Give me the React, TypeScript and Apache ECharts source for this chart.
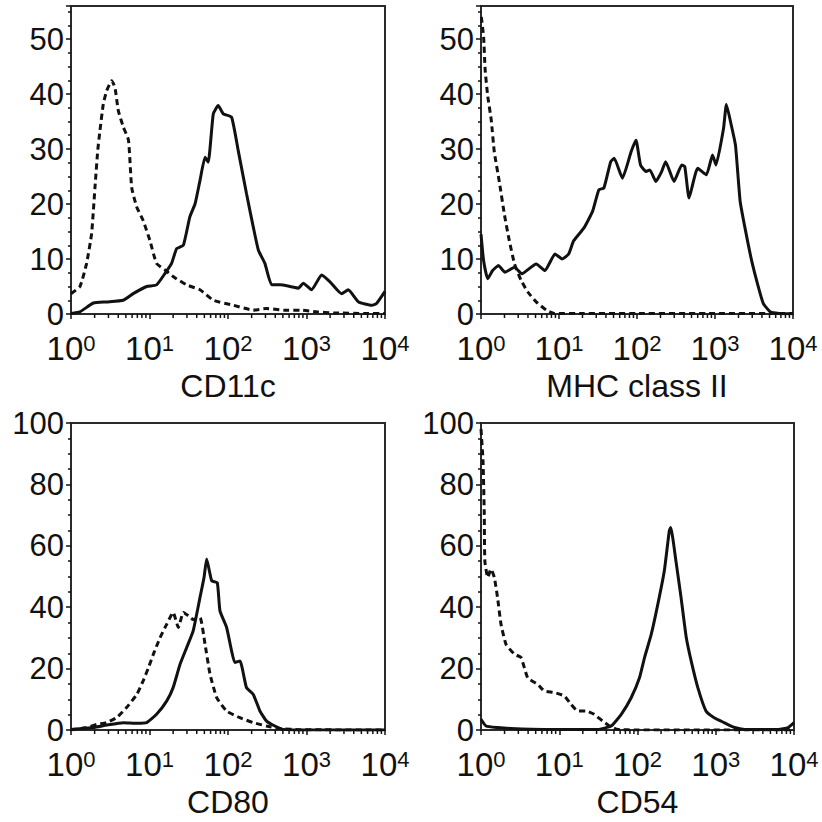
import React, { useEffect, useRef } from "react";
import * as echarts from "echarts";

// ---- Data (x = fluorescence intensity, y = cell count) ----
const markerNames = ["CD11c", "MHC class II", "CD80", "CD54"];

const cd11cControl: [number, number][] = [
  [1, 3.7], [1.3, 5], [1.58, 9.2], [1.83, 14.6], [2.02, 23], [2.19, 29.7], [2.34, 33.4],
  [2.58, 38.2], [2.85, 40.6], [3.3, 42.4], [3.63, 41.2], [4.0, 37], [4.64, 34], [5.4, 31.6],
  [5.93, 23], [6.86, 19.5], [8.3, 17], [10.1, 13.4], [12.3, 9.2], [15.8, 8], [20, 6.8],
  [29.7, 5.3], [44, 4.4], [65, 2.5], [117, 1.6], [210, 0.7], [310, 1.0], [510, 0.7],
  [830, 0.7], [1350, 0.4], [2200, 0.2], [5850, 0.1], [10000, 0.1],
];
const cd11cStained: [number, number][] = [
  [1, 0.1], [1.3, 0.4], [1.93, 2.0], [2.85, 2.2], [4.64, 2.5], [6.2, 3.7], [9.2, 5.0],
  [12.3, 5.3], [15.8, 7.4], [19.1, 9.2], [22.2, 11.9], [27, 12.5], [32.7, 17.7], [38, 20],
  [44, 24.3], [51, 28.5], [56, 27.6], [65, 36.4], [75, 37.9], [87, 36.4], [111, 35.8],
  [135, 29.7], [172, 21.9], [210, 15.8], [244, 11.6], [295, 9.2], [360, 5.3], [460, 5.3],
  [620, 5.0], [790, 4.7], [910, 5.6], [1160, 4.4], [1560, 7.1], [1980, 5.9], [2800, 3.7],
  [3400, 4.4], [4600, 2.2], [6800, 1.6], [7800, 1.9], [10000, 4.1],
];
const mhcControl: [number, number][] = [
  [1.01, 54], [1.08, 50.4], [1.13, 44.4], [1.22, 39.6], [1.35, 35.4], [1.48, 29.5],
  [1.72, 24], [2.0, 18], [2.31, 13.3], [2.69, 9.1], [3.27, 6.1], [3.98, 4], [5.1, 2.2],
  [6.9, 0.7], [8.8, 0.1], [20, 0.1], [100, 0.1], [1000, 0.1], [10000, 0.1],
];
const mhcStained: [number, number][] = [
  [1.0, 14.5], [1.08, 9.7], [1.22, 6.4], [1.41, 7.9], [1.67, 8.8], [2.03, 7.6], [2.69, 8.5],
  [3.33, 7.3], [5.1, 9.1], [6.6, 7.9], [8.9, 10.9], [11.0, 10.0], [13.3, 10.9], [15.4, 13.3],
  [21, 15.7], [27, 18.7], [32.5, 22.6], [37.6, 22.9], [46, 27.7], [51, 28.3], [65, 24.7],
  [84, 29.5], [97, 31.6], [111, 27.1], [131, 25.9], [146, 26.2], [175, 24.1], [207, 25.9],
  [233, 27.7], [298, 24.1], [375, 27.1], [410, 26.8], [465, 21.1], [600, 26.5], [775, 25.3],
  [930, 28.9], [1030, 27.1], [1285, 33.7], [1400, 38.1], [1620, 34.3], [1830, 30.7],
  [2100, 20.5], [2420, 15.7], [2950, 9.7], [3600, 4.9], [4170, 1.9], [5100, 0.4],
  [6600, 0.1], [10000, 0.05],
];
const cd80Control: [number, number][] = [
  [1, 0], [1.58, 0.8], [2.12, 1.8], [2.84, 2.4], [3.8, 4], [5.1, 7.3], [6.9, 11.6],
  [8.3, 16], [9.7, 20.3], [11.2, 24.7], [13.6, 30], [16.6, 34.5], [20, 38.3], [23.3, 33.4],
  [27, 38.3], [31.3, 37.2], [36, 36], [44, 36.6], [51, 27.9], [59, 18.2], [72, 10.5],
  [96, 6.2], [142, 4], [210, 2.4], [310, 1.3], [460, 0.5], [830, 0.1], [10000, 0],
];
const cd80Stained: [number, number][] = [
  [1, 0.2], [1.93, 0.8], [2.85, 1.6], [4.64, 2.4], [6.9, 2.2], [9.2, 2.4], [12.3, 5.1],
  [16.6, 9.5], [20, 13.8], [24.5, 21.4], [29.7, 26.8], [36, 32.3], [44, 43.2], [49.5, 49.7],
  [53.5, 55.7], [62, 48.6], [73, 48], [79, 38.8], [96, 33.4], [111, 25.8], [122, 22],
  [142, 22.5], [172, 13.8], [210, 11.6], [255, 6.2], [310, 2.9], [395, 1.3], [505, 0.2],
  [830, 0], [10000, 0],
];
const cd54Control: [number, number][] = [
  [1.0, 98], [1.06, 88], [1.1, 71], [1.12, 55], [1.22, 49.7], [1.34, 52.4], [1.48, 49.7],
  [1.63, 43], [1.8, 34.5], [2.09, 27.9], [2.67, 24.7], [3.25, 23.6], [3.95, 17], [5.3, 14.9],
  [6.45, 12.7], [8.6, 12.2], [11.6, 11.1], [14.1, 8.4], [17.2, 6.2], [22, 6.2], [28, 5.1],
  [35.9, 2.9], [44, 1.3], [56, 0.2], [100, 0], [10000, 0],
];
const cd54Stained: [number, number][] = [
  [1.0, 3.5], [1.16, 1.3], [1.63, 0.8], [2.42, 0.5], [6.45, 0.2], [17.2, 0.2], [31, 0.2],
  [46, 1.3], [62, 5.1], [83, 10.5], [106, 17], [123, 23.6], [150, 31.2], [182, 41],
  [220, 51.8], [255, 64.9], [266, 66], [310, 55], [360, 43.2], [420, 30.1], [485, 22.5],
  [590, 13.8], [750, 6.2], [955, 4], [1280, 2.4], [1740, 0.8], [2340, 0.2], [6300, 0.2],
  [8400, 0.8], [10000, 2.4],
];

const yMaxes = [56, 56, 100, 100];
const yIntervals = [10, 10, 20, 20];
const minorMultipliers = [2, 3, 4, 5, 6, 7, 8, 9];
const decades = [1, 10, 100, 1000];

const FONT = "'Liberation Sans', Arial, sans-serif";
const INK = "#111";
const FRAME = "#2a2a2a";

export default function App() {
  const ref = useRef<HTMLDivElement>(null);

  useEffect(() => {
    if (!ref.current) return;
    const chart = echarts.init(ref.current, undefined, { renderer: "svg" });

    const controls = [cd11cControl, mhcControl, cd80Control, cd54Control];
    const stained = [cd11cStained, mhcStained, cd80Stained, cd54Stained];
    const gridPos = [
      { left: 71, top: 6, width: 314, height: 308 },
      { left: 481, top: 6, width: 312, height: 308 },
      { left: 71, top: 423, width: 314, height: 307 },
      { left: 481, top: 423, width: 313, height: 307 },
    ];
    const minorVals: number[][] = [];
    decades.forEach((d) => minorMultipliers.forEach((m) => minorVals.push([m * d])));

    const grid = gridPos.map((g) => ({
      ...g,
      show: true,
      borderColor: FRAME,
      borderWidth: 2,
      backgroundColor: "transparent",
    }));

    const xAxis = markerNames.map((name, i) => ({
      type: "log",
      logBase: 10,
      gridIndex: i,
      min: 1,
      max: 10000,
      name,
      nameLocation: "middle",
      nameGap: 56,
      nameTextStyle: { fontFamily: FONT, fontSize: 32, color: INK },
      axisLine: { show: true, lineStyle: { color: FRAME, width: 2 } },
      axisTick: { show: true, inside: false, length: 5, lineStyle: { color: INK, width: 1.5 } },
      splitLine: { show: false },
      axisLabel: {
        margin: 18,
        formatter: (v: number) => `{b|10}{s|${Math.round(Math.log10(v))}}`,
        rich: {
          b: { fontFamily: FONT, fontSize: 33, lineHeight: 33, color: INK },
          s: { fontFamily: FONT, fontSize: 22, lineHeight: 14, color: INK, verticalAlign: "top" },
        },
      },
    }));

    const yAxis = markerNames.map((_, i) => ({
      type: "value",
      gridIndex: i,
      min: 0,
      max: yMaxes[i],
      interval: yIntervals[i],
      axisLine: { show: true, lineStyle: { color: FRAME, width: 2 } },
      axisTick: { show: true, inside: false, length: 5, lineStyle: { color: INK, width: 1.5 } },
      minorTick: { show: true, splitNumber: 4, length: 3, lineStyle: { color: INK, width: 1.5 } },
      splitLine: { show: false },
      axisLabel: {
        margin: 7,
        fontFamily: FONT,
        fontSize: 31,
        lineHeight: 26,
        color: INK,
        formatter: (v: number) => (v % yIntervals[i] === 0 ? String(v) : ""),
      },
    }));

    const series: any[] = [];
    markerNames.forEach((_, i) => {
      series.push({
        type: "line",
        xAxisIndex: i,
        yAxisIndex: i,
        data: controls[i],
        showSymbol: false,
        smooth: 0.15,
        lineStyle: { color: INK, width: 3, type: [6, 4] },
      });
      series.push({
        type: "line",
        xAxisIndex: i,
        yAxisIndex: i,
        data: stained[i],
        showSymbol: false,
        smooth: 0.15,
        lineStyle: { color: INK, width: 3, type: "solid" },
      });
      series.push({
        type: "custom",
        xAxisIndex: i,
        yAxisIndex: i,
        data: minorVals,
        silent: true,
        renderItem: (_p: any, api: any) => {
          const pt = api.coord([api.value(0), 0]);
          return {
            type: "line",
            shape: { x1: pt[0], y1: pt[1], x2: pt[0], y2: pt[1] + 4 },
            style: { stroke: INK, lineWidth: 1.5 },
          };
        },
      });
    });

    chart.setOption({
      animation: false,
      backgroundColor: "#fff",
      grid,
      xAxis,
      yAxis,
      series,
    });

    return () => chart.dispose();
  }, []);

  return (
    <div
      ref={ref}
      style={{ position: "fixed", left: 0, top: 0, width: 822, height: 822 }}
    />
  );
}
